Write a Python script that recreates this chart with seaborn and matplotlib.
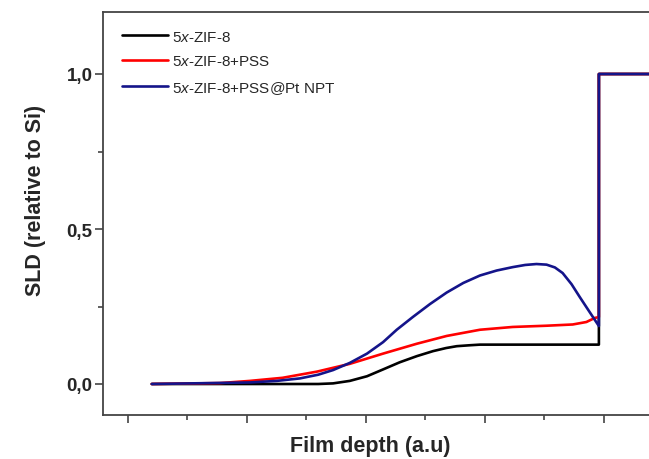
import numpy as np
import pandas as pd
import matplotlib
matplotlib.use("Agg")
import matplotlib.pyplot as plt
from matplotlib.ticker import MultipleLocator
import seaborn as sns

# SLD profiles (film depth in arbitrary units)
depth_zif = [4, 20, 32, 34.5, 37.3, 40.2, 42.9, 45.7, 48.6, 51.3, 53.5, 55.3, 57.5, 59.2, 79.2, 79.2, 92]
sld_zif = [0, 0, 0, 0.002, 0.01, 0.025, 0.047, 0.07, 0.09, 0.106, 0.116, 0.122, 0.125, 0.127, 0.127, 1.0, 1.0]

depth_pss = [4, 15.5, 20.5, 26, 31.8, 37.3, 42.9, 48.6, 53.6, 59.2, 64.7, 70.4, 74.8, 77.1,
             78.5, 79.2, 79.2, 92]
sld_pss = [0, 0.003, 0.01, 0.02, 0.04, 0.065, 0.098, 0.13, 0.155, 0.175, 0.184, 0.188, 0.192,
           0.2, 0.213, 0.216, 1.0, 1.0]

depth_pt = [4, 20.5, 25, 28.9, 32, 34.5, 37.3, 40.2, 42.9, 45.2, 47.9, 50.8, 53.6, 56.4, 59.2, 62,
            64.7, 66.8, 68.7, 70.4, 71.8, 73.1, 74.6, 76, 77.2, 78.2, 79.2, 79.2, 92]
sld_pt = [0, 0.005, 0.01, 0.018, 0.03, 0.045, 0.068, 0.098, 0.135, 0.175, 0.216, 0.258, 0.295,
          0.326, 0.35, 0.366, 0.377, 0.384, 0.387, 0.385, 0.376, 0.358, 0.322, 0.28, 0.245,
          0.216, 0.187, 1.0, 1.0]

series = ["$\\mathit{5x}$-ZIF-8", "$\\mathit{5x}$-ZIF-8+PSS", "$\\mathit{5x}$-ZIF-8+PSS@Pt NPT"]
colors = ["black", "#ff0000", "#14148a"]
ytick_vals = [0.0, 0.5, 1.0]
ytick_labels = ["0,0", "0,5", "1,0"]

df = pd.concat([
    pd.DataFrame({"depth": depth_zif, "sld": sld_zif, "sample": series[0]}),
    pd.DataFrame({"depth": depth_pss, "sld": sld_pss, "sample": series[1]}),
    pd.DataFrame({"depth": depth_pt, "sld": sld_pt, "sample": series[2]}),
], ignore_index=True)

sns.set_style("ticks")
plt.rcParams["font.family"] = ["Liberation Sans", "DejaVu Sans"]
plt.rcParams["mathtext.fontset"] = "custom"
plt.rcParams["mathtext.it"] = "Liberation Sans:italic"
plt.rcParams["mathtext.rm"] = "Liberation Sans"

fig = plt.figure(figsize=(6.49, 4.60), dpi=100)
ax = fig.add_axes([103 / 649, 44 / 460, (675 - 103) / 649, 403 / 460])

sns.lineplot(data=df, x="depth", y="sld", hue="sample", palette=colors,
             estimator=None, sort=False, lw=1.9, ax=ax)

ax.set_xlim(-4.2, 92)
ax.set_ylim(-0.1, 1.2)

ax.xaxis.set_major_locator(MultipleLocator(20))
ax.xaxis.set_minor_locator(MultipleLocator(10))
ax.set_xticklabels([])
ax.set_yticks(ytick_vals)
ax.set_yticklabels(ytick_labels, fontsize=13.5, fontweight="bold")
ax.yaxis.set_minor_locator(MultipleLocator(0.25))

ax.tick_params(which="major", length=6, width=1.2, color="#444444", direction="out", pad=1.5)
ax.tick_params(which="minor", length=3.5, width=1.2, color="#444444", direction="out")
for s in ax.spines.values():
    s.set_linewidth(1.3)
    s.set_color("#444444")

ax.set_xlabel("Film depth (a.u)", fontsize=15.5, fontweight="bold", va="center")
ax.xaxis.set_label_coords((370 - 103) / 572, (416 - 447) / 403)
ax.set_ylabel("SLD (relative to Si)", fontsize=15.5, fontweight="bold", va="center")
ax.yaxis.set_label_coords((36 - 103) / 572, (416 - 200) / 403)

ax.legend(title=None, frameon=False, loc="upper left", fontsize=11,
          handlelength=3.0, handletextpad=0.25, labelspacing=0.68,
          bbox_to_anchor=(0.01, 0.99))

fig.savefig("out.png", dpi=100)
